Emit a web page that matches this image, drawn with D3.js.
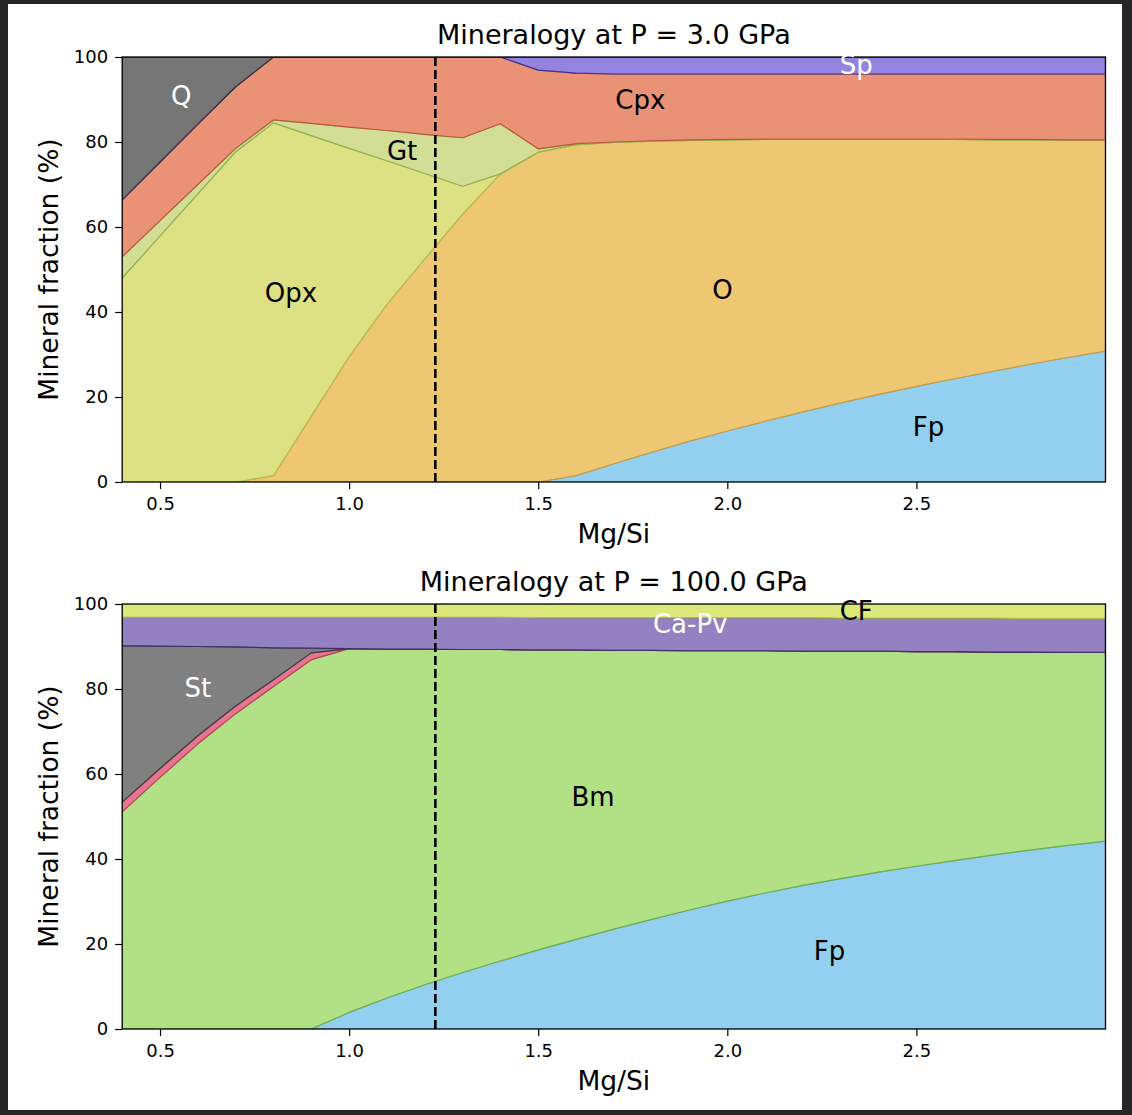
<!DOCTYPE html>
<html><head><meta charset="utf-8">
<script src="https://cdn.jsdelivr.net/npm/d3@7"></script>
<style>
body{margin:0;background:#262626;}
svg{display:block;font-family:"DejaVu Sans",sans-serif;}
</style>
</head><body>
<svg id="chart" width="1132" height="1115"></svg>
<script>
// ---------- data ----------
const mgSi = [0.4,0.5,0.6,0.7,0.8,0.9,1.0,1.1,1.2,1.3,1.4,1.5,1.6,1.7,1.8,1.9,2.0,2.1,2.2,2.3,2.4,2.5,2.6,2.7,2.8,2.9,3.0];
const xTicks = [0.5,1.0,1.5,2.0,2.5];
const yTicks = [0,20,40,60,80,100];
const earthMgSi = 1.228;

// P = 3.0 GPa (bottom to top)
const phases3 = ["Fp","O","Opx","Gt","Cpx","Sp","Q"];
const fp3  = [0,0,0,0,0,0,0,0,0,0,0,0,1.5,4.3,7.0,9.6,12.0,14.3,16.5,18.6,20.6,22.5,24.3,26.0,27.7,29.3,30.8];
const ol3  = [0,0,0,0,1.5,15.5,29.5,41.8,52.5,63.0,72.5,77.6,77.9,75.6,73.2,70.8,68.5,66.3,64.1,62.0,60.0,58.1,56.3,54.5,52.8,51.1,49.6];
const opx3 = [48.0,57.9,67.8,77.7,83.0,66.0,49.0,33.8,20.1,6.6,0,0,0,0,0,0,0,0,0,0,0,0,0,0,0,0,0];
const gt3  = [5.0,3.6,2.2,0.8,0.7,2.9,5.0,7.1,9.2,11.4,11.8,0.8,0.2,0.1,0.1,0.1,0.1,0.1,0.1,0.1,0.1,0.1,0.1,0.1,0.1,0.1,0.1];
const cpx3 = [13.4,13.8,14.2,14.5,14.8,15.6,16.5,17.3,18.2,19.0,15.7,18.5,16.6,16.0,15.7,15.5,15.4,15.3,15.3,15.3,15.3,15.3,15.3,15.4,15.4,15.5,15.5];
const sp3  = [0,0,0,0,0,0,0,0,0,0,0,3.1,3.8,4.0,4.0,4.0,4.0,4.0,4.0,4.0,4.0,4.0,4.0,4.0,4.0,4.0,4.0];
const q3   = [33.6,24.7,15.8,7.0,0,0,0,0,0,0,0,0,0,0,0,0,0,0,0,0,0,0,0,0,0,0,0];

// P = 100.0 GPa (bottom to top)
const phases100 = ["Fp","Bm","minor","St","Ca-Pv","CF"];
const fp100   = [0,0,0,0,0,0,3.9,7.3,10.4,13.3,16.0,18.6,21.1,23.5,25.8,28.0,30.1,32.0,33.8,35.4,36.9,38.3,39.6,40.9,42.1,43.2,44.2];
const bm100   = [51.1,59.2,67.1,74.2,80.6,86.9,85.6,82.1,79.0,76.0,73.3,70.6,68.1,65.6,63.3,61.0,58.9,57.0,55.1,53.5,52.0,50.5,49.2,47.8,46.6,45.4,44.4];
const minor100= [2.3,2.1,1.9,1.8,1.6,1.6,0,0,0,0,0,0,0,0,0,0,0,0,0,0,0,0,0,0,0,0,0];
const st100   = [36.8,28.8,21.0,13.9,7.5,1.1,0,0,0,0,0,0,0,0,0,0,0,0,0,0,0,0,0,0,0,0,0];
const capv100 = [6.7,6.8,6.9,7.0,7.2,7.3,7.4,7.5,7.5,7.6,7.6,7.6,7.6,7.7,7.7,7.8,7.8,7.8,7.9,7.8,7.8,7.9,7.9,8.0,7.9,8.0,8.0];
const cf100   = [3.1,3.1,3.1,3.1,3.1,3.1,3.1,3.1,3.1,3.1,3.1,3.2,3.2,3.2,3.2,3.2,3.2,3.2,3.2,3.3,3.3,3.3,3.3,3.3,3.4,3.4,3.4];

// label anchors (data units)
const labels3 = [
  {name:"Q",  x:0.556, y:90.8, white:true},
  {name:"Cpx",x:1.77,  y:89.9},
  {name:"Gt", x:1.14,  y:77.9},
  {name:"Opx",x:0.846, y:44.5},
  {name:"O",  x:1.987, y:45.2},
  {name:"Fp", x:2.532, y:12.9},
  {name:"Sp", x:2.341, y:98.1, white:true}
];
const labels100 = [
  {name:"St",   x:0.60,  y:80.2, white:true},
  {name:"Bm",   x:1.645, y:54.6},
  {name:"Fp",   x:2.27,  y:18.4},
  {name:"Ca-Pv",x:1.902, y:95.3, white:true},
  {name:"CF",   x:2.341, y:98.4}
];

const colors = {
  "Fp":"#93d0ef","O":"#eec773","Opx":"#dee084","Gt":"#d2de95","Cpx":"#e99276",
  "Sp":"#9584df","Q":"#757575","Bm":"#b2e085","minor":"#e8758f","St":"#808080",
  "Ca-Pv":"#9481c1","CF":"#dae97a"
};
const edges = {
  "Fp":"#6aa9cc","O":"#c99a3e","Opx":"#b9ba4a","Gt":"#8fb24c","Cpx":"#b9583c",
  "Sp":"#3f2f8c","Q":"#333333","Bm":"#6aae48","minor":"#b8405e","St":"#3a3a3a",
  "Ca-Pv":"#3e2f66","CF":"#b3c24e"
};

// ---------- drawing ----------
const svg = d3.select("#chart");
svg.append("rect").attr("x",8).attr("y",4).attr("width",1114).attr("height",1106).attr("fill","#ffffff");

const left = 122.2, right = 1105.5;
const x = d3.scaleLinear().domain([0.4, 3.0]).range([left, right]);

function panel(top, bottom, title, keys, series, labs, id) {
  const y = d3.scaleLinear().domain([0, 100]).range([bottom, top]);
  const rows = mgSi.map((v, i) => {
    const r = {x: v};
    keys.forEach((k, j) => r[k] = series[j][i]);
    return r;
  });
  const stacked = d3.stack().keys(keys)(rows);
  const g = svg.append("g");
  g.append("clipPath").attr("id", id).append("rect")
    .attr("x", left).attr("y", top).attr("width", right - left).attr("height", bottom - top);
  const area = d3.area().x(d => x(d.data.x)).y0(d => y(d[0])).y1(d => y(d[1]));
  const ga = g.append("g").attr("clip-path", `url(#${id})`);
  stacked.forEach(s => {
    ga.append("path").datum(s).attr("d", area)
      .attr("fill", colors[s.key])
      .attr("stroke", edges[s.key])
      .attr("stroke-width", 1.2).attr("stroke-linejoin","round");
  });
  // dashed line
  g.append("line").attr("x1", x(earthMgSi)).attr("x2", x(earthMgSi))
    .attr("y1", top).attr("y2", bottom)
    .attr("stroke", "#000").attr("stroke-width", 2.6).attr("stroke-dasharray", "9,4");
  // axes
  const ya = g.append("g").attr("transform", `translate(${left},0)`)
    .call(d3.axisLeft(y).tickValues(yTicks).tickSize(7).tickPadding(7).tickFormat(d3.format("d")));
  const xa = g.append("g").attr("transform", `translate(0,${bottom})`)
    .call(d3.axisBottom(x).tickValues(xTicks).tickSize(7).tickPadding(8).tickFormat(d3.format(".1f")));
  [ya, xa].forEach(a => {
    a.select(".domain").remove();
    a.selectAll(".tick line").attr("stroke", "#000").attr("stroke-width", 1.2);
    a.selectAll(".tick text").attr("fill", "#000").style("font-size", "18px").style("font-family", '"DejaVu Sans"');
  });
  g.append("rect").attr("x", left).attr("y", top).attr("width", right - left).attr("height", bottom - top)
    .attr("fill", "none").attr("stroke", "#000").attr("stroke-width", 1.3);
  // labels
  labs.forEach(l => {
    g.append("text").attr("x", x(l.x)).attr("y", y(l.y))
      .attr("text-anchor", "middle").attr("dominant-baseline", "central")
      .attr("fill", l.white ? "#ffffff" : "#000000")
      .style("font-size", "26px").text(l.name);
  });
  // title, axis labels
  g.append("text").attr("x", (left + right) / 2).attr("y", top - 13)
    .attr("text-anchor", "middle").style("font-size", "27px").attr("fill","#000").text(title);
  g.append("text").attr("x", (left + right) / 2).attr("y", bottom + 61)
    .attr("text-anchor", "middle").style("font-size", "26.5px").attr("fill","#000").text("Mg/Si");
  g.append("text").attr("transform", `translate(58,${(top + bottom) / 2}) rotate(-90)`)
    .attr("text-anchor", "middle").style("font-size", "26.5px").attr("fill","#000").text("Mineral fraction (%)");
}

panel(57, 482, "Mineralogy at P = 3.0 GPa", phases3, [fp3, ol3, opx3, gt3, cpx3, sp3, q3], labels3, "clipTop");
panel(604, 1029, "Mineralogy at P = 100.0 GPa", phases100, [fp100, bm100, minor100, st100, capv100, cf100], labels100, "clipBot");
</script>
</body></html>
